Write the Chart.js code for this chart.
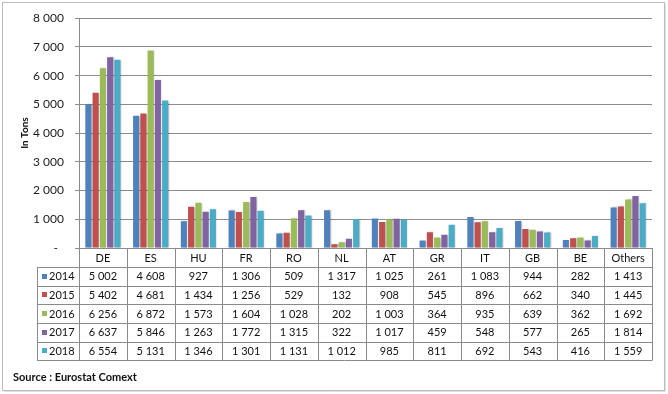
<!DOCTYPE html>
<html>
<head>
<meta charset="utf-8">
<script src="https://cdn.jsdelivr.net/npm/chart.js@4/dist/chart.umd.min.js"></script>
<style>
html,body{margin:0;padding:0;background:#fff;}
#wrap{position:relative;width:668px;height:394px;}
</style>
</head>
<body>
<div id="wrap"><canvas id="c" width="668" height="394"></canvas></div>
<script>
const categories = ['DE','ES','HU','FR','RO','NL','AT','GR','IT','GB','BE','Others'];
const years = ['2014','2015','2016','2017','2018'];
const v2014 = [5002,4608,927,1306,509,1317,1025,261,1083,944,282,1413];
const v2015 = [5402,4681,1434,1256,529,132,908,545,896,662,340,1445];
const v2016 = [6256,6872,1573,1604,1028,202,1003,364,935,639,362,1692];
const v2017 = [6637,5846,1263,1772,1315,322,1017,459,548,577,265,1814];
const v2018 = [6554,5131,1346,1301,1131,1012,985,811,692,543,416,1559];
const colors = ['#4F81BD','#C0504D','#9BBB59','#8064A2','#4BACC6'];
const yTitle = 'In Tons';
const sourceText = 'Source : Eurostat Comext';
const series = [v2014,v2015,v2016,v2017,v2018];

function fmt(n){
  return String(n).replace(/\B(?=(\d{3})+(?!\d))/g, ' ');
}

const FONT = 'Lato, "Open Sans", sans-serif';

const frame = {
  id:'frame',
  beforeDraw(chart){
    const ctx = chart.ctx;
    ctx.save();
    ctx.fillStyle = '#fff';
    ctx.fillRect(0,0,chart.width,chart.height);
    ctx.strokeStyle = '#bdbdbd';
    ctx.lineWidth = 1;
    ctx.strokeRect(2.5,2.5,662,388);
    ctx.strokeStyle = '#e0e0e0';
    ctx.beginPath();
    ctx.moveTo(665.5,4); ctx.lineTo(665.5,391.5); ctx.lineTo(4,391.5);
    ctx.stroke();
    ctx.restore();
  },
  beforeDatasetsDraw(chart){
    const ctx = chart.ctx;
    ctx.save();
    ctx.shadowColor = 'rgba(0,0,0,0.22)';
    ctx.shadowOffsetX = 1.5;
    ctx.shadowOffsetY = 0;
    ctx.shadowBlur = 1.5;
  },
  afterDatasetsDraw(chart){
    chart.ctx.restore();
  },
  afterDraw(chart){
    const ctx = chart.ctx;
    const xs = chart.scales.x;
    const area = chart.chartArea;
    const n = categories.length;
    const w = (area.right - area.left)/n;
    const top = area.bottom;
    const headerH = 19;
    const rowH = 18.65;
    const legLeft = 37;
    const bottom = top + headerH + rowH*years.length;
    ctx.save();
    ctx.strokeStyle = '#8a8a8a';
    ctx.lineWidth = 1;
    ctx.beginPath();
    ctx.moveTo(area.left, Math.round(top)+0.5); ctx.lineTo(area.right, Math.round(top)+0.5);
    for(let r=0;r<=years.length;r++){
      const y = Math.round(top+headerH+rowH*r)+0.5;
      ctx.moveTo(legLeft, y); ctx.lineTo(area.right, y);
    }
    ctx.moveTo(legLeft+0.5, Math.round(top+headerH)); ctx.lineTo(legLeft+0.5, Math.round(bottom)+0.5);
    for(let i=0;i<=n;i++){
      const x = Math.round(area.left + i*w)+0.5;
      ctx.moveTo(x, top); ctx.lineTo(x, Math.round(bottom)+0.5);
    }
    ctx.stroke();
    ctx.fillStyle = '#111';
    ctx.font = '11px ' + FONT;
    ctx.textAlign = 'center';
    ctx.textBaseline = 'middle';
    for(let i=0;i<n;i++){
      const cx = xs.getPixelForValue(i);
      ctx.fillText(categories[i], cx, top + headerH/2 + 1);
    }
    for(let r=0;r<years.length;r++){
      const cy = top + headerH + rowH*r + rowH/2 + 0.5;
      ctx.fillStyle = colors[r];
      ctx.fillRect(legLeft+5, Math.round(cy)-3, 5, 5);
      ctx.fillStyle = '#111';
      ctx.textAlign = 'left';
      ctx.fillText(years[r], legLeft+12, cy);
      ctx.textAlign = 'center';
      for(let i=0;i<n;i++){
        ctx.fillText(fmt(series[r][i]), xs.getPixelForValue(i), cy);
      }
    }
    ctx.font = 'bold 11px ' + FONT;
    ctx.textAlign = 'left';
    ctx.fillText(sourceText, 13, 377);
    ctx.restore();
  }
};

new Chart(document.getElementById('c'), {
  type:'bar',
  data:{
    labels: categories,
    datasets: years.map((y,k)=>({
      label:y,
      data:series[k],
      backgroundColor:colors[k],
      borderWidth:0,
      categoryPercentage:0.76,
      barPercentage:0.84
    }))
  },
  options:{
    responsive:false,
    animation:false,
    devicePixelRatio:1,
    layout:{padding:{left:0,top:15,right:16,bottom:146}},
    plugins:{legend:{display:false},tooltip:{enabled:false}},
    scales:{
      x:{
        ticks:{display:false},
        grid:{display:false},
        border:{display:false},
        afterFit(s){ s.height = 0; }
      },
      y:{
        min:0,max:8000,
        ticks:{
          stepSize:1000,
          color:'#1a1a1a',
          font:{family:FONT,size:12},
          padding:11,
          callback:(v)=> v===0 ? '-  ' : fmt(v)
        },
        grid:{color:'#8c8c8c',lineWidth:1,tickLength:4,drawTicks:true},
        border:{display:true,color:'#8c8c8c'},
        title:{display:true,text:yTitle,color:'#111',font:{family:FONT,size:10,weight:'bold'},padding:{top:19,bottom:0}},
        afterFit(s){ s.width = 79; }
      }
    }
  },
  plugins:[frame]
});
</script>
</body>
</html>
